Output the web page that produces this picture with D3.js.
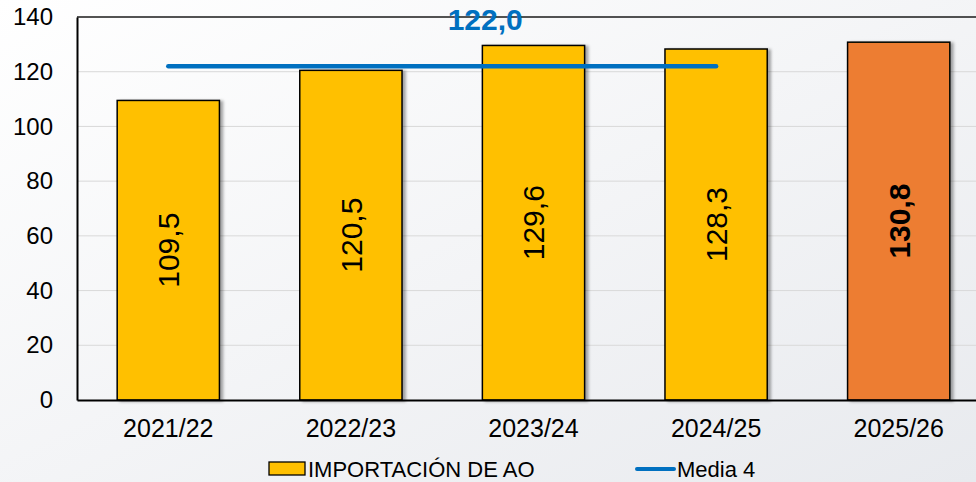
<!DOCTYPE html>
<html>
<head>
<meta charset="utf-8">
<script src="https://cdn.jsdelivr.net/npm/d3@7.9.0/dist/d3.min.js"></script>
<style>
  html, body { margin: 0; padding: 0; }
  body { width: 976px; height: 482px; overflow: hidden; }
  svg { display: block; font-family: "Liberation Sans", Arial, sans-serif; }
</style>
</head>
<body>
<svg id="chart" width="976" height="482"></svg>
<script>
const campaigns = ["2021/22", "2022/23", "2023/24", "2024/25", "2025/26"];
const imports = [109.5, 120.5, 129.6, 128.3, 130.8];
const highlighted = ["2025/26"];
const meanCampaigns = ["2021/22", "2024/25"];
const meanValue = 122.0;
const yTicks = [0, 20, 40, 60, 80, 100, 120, 140];

const fmt = (v) => d3.format(".1f")(v).replace(".", ",");

const svg = d3.select("#chart");
const width = 976, height = 482;
const margin = { top: 17, right: -14, bottom: 82, left: 77 };

// background gradient
const defs = svg.append("defs");
const grad = defs.append("linearGradient")
  .attr("id", "bg").attr("x1", "0").attr("y1", "0").attr("x2", "1").attr("y2", "1");
grad.append("stop").attr("offset", "0%").attr("stop-color", "#ffffff");
grad.append("stop").attr("offset", "100%").attr("stop-color", "#e8eaee");

const shadow = defs.append("filter").attr("id", "shadow")
  .attr("x", "-20%").attr("y", "-20%").attr("width", "150%").attr("height", "150%");
shadow.append("feDropShadow")
  .attr("dx", 3).attr("dy", 1).attr("stdDeviation", 1.8)
  .attr("flood-color", "#000").attr("flood-opacity", 0.35);

svg.append("rect").attr("width", width).attr("height", height).attr("fill", "url(#bg)");

const x = d3.scaleBand()
  .domain(campaigns)
  .range([margin.left, width - margin.right])
  .paddingInner(0.44)
  .paddingOuter(0.22);

const y = d3.scaleLinear()
  .domain([0, 140])
  .range([height - margin.bottom, margin.top]);

// gridlines
svg.append("g")
  .selectAll("line")
  .data(yTicks.filter((d) => d > 0 && d < 140))
  .join("line")
  .attr("x1", margin.left).attr("x2", width)
  .attr("y1", (d) => y(d)).attr("y2", (d) => y(d))
  .attr("stroke", "#d9d9d9").attr("stroke-width", 1);

// top border
svg.append("line")
  .attr("x1", margin.left).attr("x2", width)
  .attr("y1", y(140)).attr("y2", y(140))
  .attr("stroke", "#1a1a1a").attr("stroke-width", 1.5);

// y axis
const yAxis = svg.append("g")
  .attr("transform", `translate(${margin.left},0)`)
  .call(d3.axisLeft(y).tickValues(yTicks).tickSize(0).tickPadding(24));
yAxis.select(".domain").attr("stroke", "#000").attr("stroke-width", 2);
yAxis.selectAll("text")
  .attr("font-size", 24).attr("fill", "#000")
  .attr("font-family", "'Liberation Sans', Arial, sans-serif");

// bars
const data = campaigns.map((c, i) => ({ campaign: c, value: imports[i] }));

svg.append("g")
  .selectAll("rect")
  .data(data)
  .join("rect")
  .attr("x", (d) => x(d.campaign))
  .attr("y", (d) => y(d.value))
  .attr("width", x.bandwidth())
  .attr("height", (d) => y(0) - y(d.value))
  .attr("fill", (d) => highlighted.includes(d.campaign) ? "#ED7D31" : "#FFC000")
  .attr("stroke", "#000").attr("stroke-width", 1.5)
  .attr("filter", "url(#shadow)");

// bar labels (rotated)
svg.append("g")
  .selectAll("text")
  .data(data)
  .join("text")
  .attr("transform", (d) => {
    const cx = x(d.campaign) + x.bandwidth() / 2;
    const cy = (y(d.value) + y(0)) / 2;
    return `translate(${cx},${cy}) rotate(-90)`;
  })
  .attr("text-anchor", "middle")
  .attr("dy", "0.36em")
  .attr("font-size", 30)
  .attr("font-weight", (d) => highlighted.includes(d.campaign) ? "bold" : "normal")
  .attr("fill", "#000")
  .text((d) => fmt(d.value));

// x axis
const xAxis = svg.append("g")
  .attr("transform", `translate(0,${y(0)})`)
  .call(d3.axisBottom(x).tickSize(0).tickPadding(19));
xAxis.select(".domain").attr("stroke", "#000").attr("stroke-width", 2);
xAxis.selectAll("text")
  .attr("font-size", 25).attr("fill", "#000")
  .attr("font-family", "'Liberation Sans', Arial, sans-serif");

// mean line
const mx1 = x(meanCampaigns[0]) + x.bandwidth() / 2;
const mx2 = x(meanCampaigns[1]) + x.bandwidth() / 2;
svg.append("line")
  .attr("x1", mx1).attr("x2", mx2)
  .attr("y1", y(meanValue)).attr("y2", y(meanValue))
  .attr("stroke", "#0070C0").attr("stroke-width", 4.5)
  .attr("stroke-linecap", "round");

svg.append("text")
  .attr("x", (mx1 + mx2) / 2 + 43)
  .attr("y", 30)
  .attr("text-anchor", "middle")
  .attr("font-size", 30).attr("font-weight", "bold")
  .attr("fill", "#0070C0")
  .text(fmt(meanValue));

// legend
const legend = svg.append("g").attr("font-size", 22).attr("fill", "#000");
legend.append("rect")
  .attr("x", 269).attr("y", 462).attr("width", 36).attr("height", 13)
  .attr("fill", "#FFC000").attr("stroke", "#000").attr("stroke-width", 1.3);
legend.append("text").attr("x", 308).attr("y", 477).text("IMPORTACIÓN DE AO");
legend.append("line")
  .attr("x1", 637).attr("x2", 674).attr("y1", 469).attr("y2", 469)
  .attr("stroke", "#0070C0").attr("stroke-width", 4).attr("stroke-linecap", "round");
legend.append("text").attr("x", 677).attr("y", 477).text("Media 4");
</script>
</body>
</html>
